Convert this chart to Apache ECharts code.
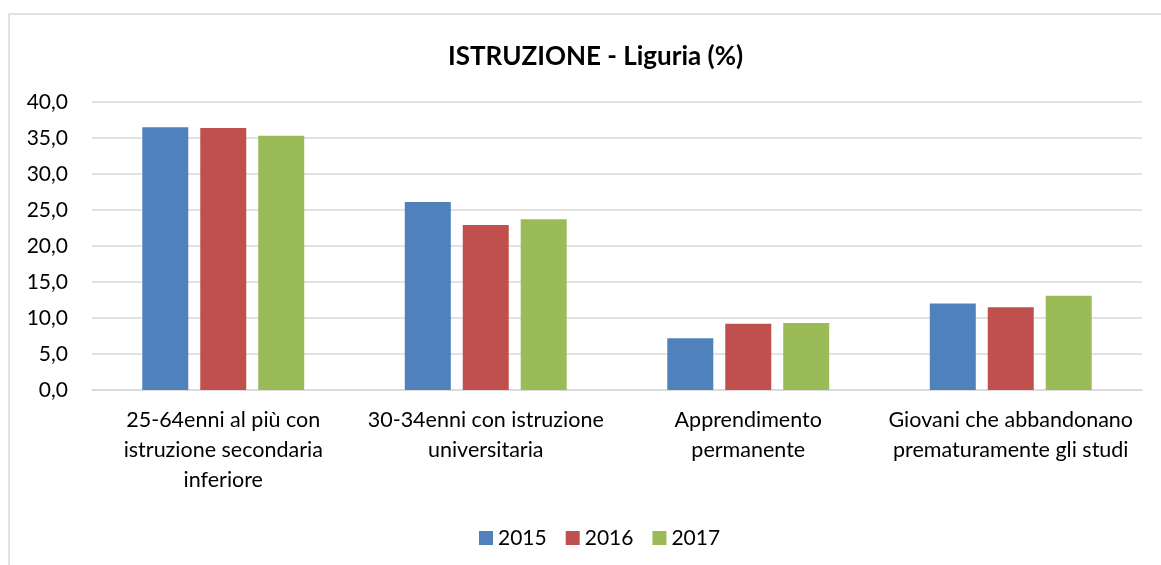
<!DOCTYPE html>
<html>
<head>
<meta charset="utf-8">
<script src="https://cdn.jsdelivr.net/npm/echarts@6/dist/echarts.min.js"></script>
<style>
    html, body { margin: 0; padding: 0; background: #fff; }
    #chart { width: 1161px; height: 565px; }
</style>
</head>
<body>
<div id="chart"></div>
<script>
// categories and values
const categories = [
    '25-64enni al più con\nistruzione secondaria\ninferiore',
    '30-34enni con istruzione\nuniversitaria',
    'Apprendimento\npermanente',
    'Giovani che abbandonano\nprematuramente gli studi'
];
const years = ['2015', '2016', '2017'];
const values2015 = [36.5, 26.1, 7.2, 12.0];
const values2016 = [36.4, 22.9, 9.2, 11.5];
const values2017 = [35.3, 23.7, 9.3, 13.1];
const yTicks = { min: 0, max: 40, interval: 5 };

const colors = ['#4f81bd', '#c0504d', '#9bbb59'];
const font = 'Lato, "Noto Sans", sans-serif';

let myChart = echarts.init(document.getElementById('chart'));

function barSeries(name, data, idx) {
    return {
        name: name,
        type: 'bar',
        data: data,
        barWidth: 46,
        barGap: '26%',
        itemStyle: { color: colors[idx] },
        emphasis: { disabled: true }
    };
}

myChart.setOption({
    animation: false,
    textStyle: { fontFamily: font },
    // chart area border (only top/left visible in picture)
    graphic: [{
        type: 'rect',
        shape: { x: 9, y: 14, width: 1300, height: 700 },
        style: { fill: 'none', stroke: '#d9d9d9', lineWidth: 1.5 },
        silent: true
    }],
    title: {
        text: 'ISTRUZIONE - Liguria (%)',
        left: 443,
        top: 39,
        textStyle: {
            fontFamily: font,
            fontWeight: 'bold',
            fontSize: 26,
            lineHeight: 26,
            color: '#000'
        }
    },
    legend: {
        data: years,
        left: 474,
        top: 521,
        icon: 'rect',
        itemWidth: 14,
        itemHeight: 14,
        itemGap: 19,
        textStyle: { fontFamily: font, fontSize: 21, lineHeight: 24, color: '#000' }
    },
    grid: {
        left: 92,
        right: 19,
        top: 102,
        bottom: 175
    },
    xAxis: {
        type: 'category',
        data: categories,
        axisTick: { show: false },
        axisLine: { lineStyle: { color: '#d9d9d9', width: 1.5 } },
        axisLabel: {
            interval: 0,
            margin: 15,
            fontFamily: font,
            fontSize: 21.5,
            lineHeight: 30,
            color: '#000',
            align: 'center'
        }
    },
    yAxis: {
        type: 'value',
        min: yTicks.min,
        max: yTicks.max,
        interval: yTicks.interval,
        axisLine: { show: false },
        axisTick: { show: false },
        splitLine: { lineStyle: { color: '#d9d9d9', width: 1.5 } },
        axisLabel: {
            margin: 24,
            fontFamily: font,
            fontSize: 21,
            color: '#000',
            formatter: function (v) {
                return v.toFixed(1).replace('.', ',');
            }
        }
    },
    series: [
        barSeries(years[0], values2015, 0),
        barSeries(years[1], values2016, 1),
        barSeries(years[2], values2017, 2)
    ]
});
</script>
</body>
</html>
